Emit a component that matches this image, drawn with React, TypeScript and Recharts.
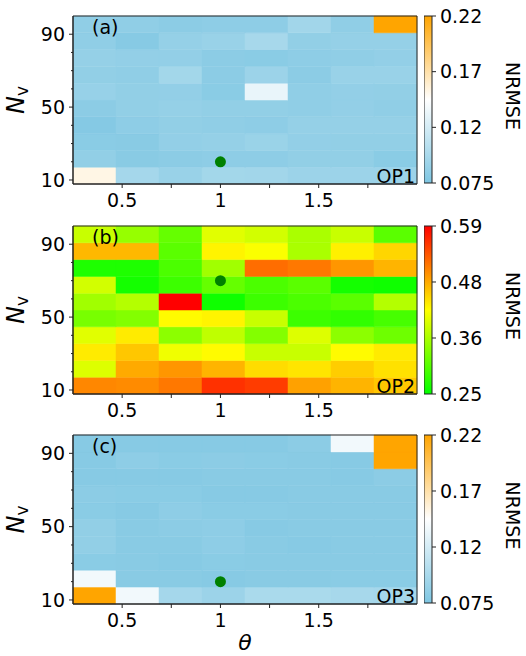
import React from 'react';
import { ComposedChart, XAxis, YAxis, ReferenceArea, Scatter } from 'recharts';

const FONT = '"DejaVu Sans", sans-serif';
const INK = '#222';

// axes
const THETA_MIN = 0.25;
const THETA_MAX = 2.0;
const NV_MIN = 7.8;
const NV_MAX = 100;
const THETA_TICKS = [0.5, 0.75, 1, 1.25, 1.5, 1.75];
const THETA_LABELS = ['0.5', '', '1', '', '1.5', ''];
const NV_TICKS = [10, 20, 30, 40, 50, 60, 70, 80, 90];
const NV_LABELED = [10, 50, 90];

// NRMSE grids, rows from N_v = 100 (top) down to N_v = 10, columns theta 0.25 -> 2.0
const OP1 = [
  [0.085, 0.085, 0.083, 0.084, 0.084, 0.095, 0.085, 0.22],
  [0.085, 0.08, 0.088, 0.09, 0.098, 0.086, 0.088, 0.088],
  [0.088, 0.087, 0.087, 0.083, 0.082, 0.084, 0.085, 0.087],
  [0.086, 0.085, 0.096, 0.083, 0.092, 0.083, 0.09, 0.09],
  [0.089, 0.086, 0.087, 0.082, 0.135, 0.085, 0.087, 0.086],
  [0.083, 0.086, 0.088, 0.086, 0.086, 0.085, 0.087, 0.085],
  [0.079, 0.084, 0.086, 0.085, 0.084, 0.088, 0.088, 0.088],
  [0.082, 0.081, 0.087, 0.088, 0.091, 0.087, 0.086, 0.086],
  [0.086, 0.081, 0.083, 0.084, 0.084, 0.086, 0.086, 0.082],
  [0.155, 0.097, 0.09, 0.096, 0.095, 0.092, 0.092, 0.092],
];
const OP2 = [
  [0.383, 0.35, 0.317, 0.4, 0.39, 0.363, 0.383, 0.31],
  [0.467, 0.467, 0.31, 0.427, 0.417, 0.363, 0.43, 0.447],
  [0.27, 0.27, 0.3, 0.357, 0.517, 0.51, 0.49, 0.47],
  [0.39, 0.263, 0.29, 0.317, 0.3, 0.31, 0.263, 0.26],
  [0.357, 0.37, 0.59, 0.26, 0.29, 0.3, 0.31, 0.37],
  [0.33, 0.337, 0.423, 0.427, 0.383, 0.29, 0.283, 0.297],
  [0.4, 0.433, 0.343, 0.377, 0.337, 0.397, 0.343, 0.323],
  [0.433, 0.457, 0.41, 0.423, 0.383, 0.383, 0.423, 0.433],
  [0.397, 0.477, 0.49, 0.47, 0.443, 0.437, 0.453, 0.44],
  [0.5, 0.497, 0.51, 0.557, 0.55, 0.483, 0.47, 0.457],
];
const OP3 = [
  [0.08, 0.08, 0.08, 0.08, 0.08, 0.083, 0.14, 0.22],
  [0.08, 0.084, 0.082, 0.083, 0.082, 0.081, 0.08, 0.22],
  [0.08, 0.08, 0.08, 0.081, 0.081, 0.081, 0.08, 0.083],
  [0.083, 0.082, 0.082, 0.08, 0.08, 0.081, 0.081, 0.081],
  [0.082, 0.08, 0.084, 0.082, 0.082, 0.081, 0.081, 0.081],
  [0.086, 0.081, 0.083, 0.084, 0.08, 0.081, 0.081, 0.081],
  [0.086, 0.081, 0.081, 0.084, 0.081, 0.08, 0.081, 0.081],
  [0.082, 0.081, 0.08, 0.082, 0.081, 0.081, 0.081, 0.081],
  [0.14, 0.081, 0.081, 0.08, 0.081, 0.081, 0.082, 0.082],
  [0.22, 0.14, 0.097, 0.092, 0.1, 0.1, 0.098, 0.097],
];

// chosen operating points
const DOT_A = [{ theta: 1, nv: 20 }];
const DOT_B = [{ theta: 1, nv: 70 }];
const DOT_C = [{ theta: 1, nv: 20 }];

const BLUE_RANGE = [0.075, 0.22];
const BLUE_TICKS = [0.075, 0.12333, 0.17167, 0.22];
const BLUE_LABELS = ['0.075', '0.12', '0.17', '0.22'];
const GYR_RANGE = [0.25, 0.59];
const GYR_TICKS = [0.25, 0.36333, 0.47667, 0.59];
const GYR_LABELS = ['0.25', '0.36', '0.48', '0.59'];

type Stop = [number, number[]];
const BLUE_MAP: Stop[] = [
  [0, [126, 198, 226]],
  [0.5, [255, 255, 255]],
  [1, [255, 165, 0]],
];
const GYR_MAP: Stop[] = [
  [0, [0, 255, 0]],
  [0.5, [255, 255, 0]],
  [1, [255, 0, 0]],
];

function colorAt(map: Stop[], t: number) {
  const c = Math.max(0, Math.min(1, t));
  for (let i = 1; i < map.length; i++) {
    const [t0, a] = map[i - 1];
    const [t1, b] = map[i];
    if (c <= t1) {
      const f = (c - t0) / (t1 - t0);
      const rgb = a.map((v, k) => Math.round(v + (b[k] - v) * f));
      return `rgb(${rgb.join(',')})`;
    }
  }
  return `rgb(${map[map.length - 1][1].join(',')})`;
}

const NvTick = (props: any) => {
  const { x, y, payload } = props;
  const major = NV_LABELED.includes(payload.value);
  return (
    <g>
      <line x1={x + 8 - (major ? 4 : 2)} x2={x + 8} y1={y} y2={y} stroke={INK} />
      {major && (
        <text x={x} y={y} dy="0.355em" textAnchor="end" fontSize={19} fontFamily={FONT} fill="#000">
          {payload.value}
        </text>
      )}
    </g>
  );
};

interface PanelProps {
  rows: number[][];
  map: Stop[];
  range: number[];
  dot: { theta: number; nv: number }[];
  top: number;
  height: number;
  xAxisHeight: number;
}

const HeatPanel: React.FC<PanelProps> = ({ rows, map, range, dot, top, height, xAxisHeight }) => {
  const nCols = rows[0].length;
  const dx = (THETA_MAX - THETA_MIN) / nCols;
  const dy = (NV_MAX - NV_MIN) / rows.length;
  const bottomUp = [...rows].reverse();
  return (
    <div style={{ position: 'absolute', left: 0, top }}>
      <ComposedChart width={526} height={height} data={dot} margin={{ top: 16, right: 109, bottom: 0, left: 0 }}>
        <XAxis
          type="number"
          dataKey="theta"
          domain={[THETA_MIN, THETA_MAX]}
          allowDataOverflow
          ticks={THETA_TICKS}
          interval={0}
          tickFormatter={(v: number) => THETA_LABELS[THETA_TICKS.indexOf(v)] ?? ''}
          height={xAxisHeight}
          stroke={INK}
          tickSize={4}
          tickMargin={6}
          tick={{ fill: '#000', fontSize: 19, fontFamily: FONT }}
        />
        <YAxis
          type="number"
          dataKey="nv"
          domain={[NV_MIN, NV_MAX]}
          allowDataOverflow
          ticks={NV_TICKS}
          interval={0}
          width={73}
          stroke={INK}
          tickLine={false}
          tickSize={4}
          tickMargin={4}
          tick={<NvTick />}
        />
        {bottomUp.map((row, j) =>
          row.map((v, i) => {
            const fill = colorAt(map, (v - range[0]) / (range[1] - range[0]));
            return (
              <ReferenceArea
                key={`${i}-${j}`}
                x1={THETA_MIN + i * dx}
                x2={THETA_MIN + (i + 1) * dx}
                y1={NV_MIN + j * dy}
                y2={NV_MIN + (j + 1) * dy}
                fill={fill}
                fillOpacity={1}
                stroke={fill}
                strokeWidth={0.5}
                ifOverflow="visible"
              />
            );
          })
        )}
        <ReferenceArea
          x1={THETA_MIN}
          x2={THETA_MAX}
          y1={NV_MIN}
          y2={NV_MAX}
          fill="none"
          stroke={INK}
          strokeOpacity={1}
          ifOverflow="visible"
        />
        <Scatter
          data={dot}
          dataKey="nv"
          isAnimationActive={false}
          shape={(p: any) => <circle cx={p.cx} cy={p.cy} r={5.5} fill="#008000" />}
        />
      </ComposedChart>
    </div>
  );
};

interface BarProps {
  range: number[];
  ticks: number[];
  labels: string[];
  gradId: string;
  top: number;
  height: number;
  bottom: number;
}

const ColorBar: React.FC<BarProps> = ({ range, ticks, labels, gradId, top, height, bottom }) => (
  <div style={{ position: 'absolute', left: 424, top }}>
    <ComposedChart
      width={102}
      height={height}
      data={[{ x: 0, v: range[0] }, { x: 1, v: range[1] }]}
      margin={{ top: 16, right: 0, bottom, left: 0 }}
    >
      <XAxis type="number" dataKey="x" domain={[0, 1]} hide />
      <YAxis
        orientation="right"
        type="number"
        dataKey="v"
        domain={range}
        allowDataOverflow
        ticks={ticks}
        interval={0}
        width={94}
        axisLine={false}
        stroke={INK}
        tickSize={4}
        tickMargin={4}
        tickFormatter={(v: number) => labels[ticks.indexOf(v)] ?? ''}
        tick={{ fill: '#000', fontSize: 19, fontFamily: FONT }}
      />
      <ReferenceArea
        x1={0}
        x2={1}
        y1={range[0]}
        y2={range[1]}
        fill={`url(#${gradId})`}
        fillOpacity={1}
        stroke={INK}
        strokeOpacity={1}
        ifOverflow="visible"
      />
    </ComposedChart>
  </div>
);

const gradient = (id: string, map: Stop[]) => (
  <linearGradient id={id} x1="0" y1="1" x2="0" y2="0">
    {map.map(([t, rgb]) => (
      <stop key={t} offset={t} stopColor={`rgb(${rgb.join(',')})`} />
    ))}
  </linearGradient>
);

const PANELS = [
  { tag: '(a)', op: 'OP1', plotTop: 16, plotBottom: 184 },
  { tag: '(b)', op: 'OP2', plotTop: 226, plotBottom: 394 },
  { tag: '(c)', op: 'OP3', plotTop: 435, plotBottom: 604 },
];

export default function App() {
  return (
    <div style={{ position: 'absolute', left: 0, top: 0, width: 526, height: 656, background: '#fff', fontFamily: FONT }}>
      <svg width={0} height={0} style={{ position: 'absolute' }}>
        <defs>
          {gradient('cb-blue', BLUE_MAP)}
          {gradient('cb-gyr', GYR_MAP)}
        </defs>
      </svg>

      <HeatPanel rows={OP1} map={BLUE_MAP} range={BLUE_RANGE} dot={DOT_A} top={0} height={210} xAxisHeight={26} />
      <HeatPanel rows={OP2} map={GYR_MAP} range={GYR_RANGE} dot={DOT_B} top={210} height={210} xAxisHeight={26} />
      <HeatPanel rows={OP3} map={BLUE_MAP} range={BLUE_RANGE} dot={DOT_C} top={419} height={237} xAxisHeight={52} />

      <ColorBar range={BLUE_RANGE} ticks={BLUE_TICKS} labels={BLUE_LABELS} gradId="cb-blue" top={0} height={210} bottom={27} />
      <ColorBar range={GYR_RANGE} ticks={GYR_TICKS} labels={GYR_LABELS} gradId="cb-gyr" top={210} height={210} bottom={26} />
      <ColorBar range={BLUE_RANGE} ticks={BLUE_TICKS} labels={BLUE_LABELS} gradId="cb-blue" top={419} height={237} bottom={53} />

      <svg width={526} height={656} style={{ position: 'absolute', left: 0, top: 0, pointerEvents: 'none' }}>
        {PANELS.map((p) => {
          const mid = (p.plotTop + p.plotBottom) / 2;
          return (
            <g key={p.tag} fontFamily={FONT} fill="#000">
              <text x={92} y={p.plotTop + 18} fontSize={19}>
                {p.tag}
              </text>
              <text x={415} y={p.plotBottom - 1.5} fontSize={19} textAnchor="end">
                {p.op}
              </text>
              <text transform={`translate(24, ${mid}) rotate(-90)`} textAnchor="middle">
                <tspan fontSize={24} fontStyle="italic">N</tspan>
                <tspan fontSize={17} dy={4}>v</tspan>
              </text>
              <text transform={`translate(506, ${mid - 4}) rotate(90)`} textAnchor="middle" fontSize={19}>
                NRMSE
              </text>
            </g>
          );
        })}
        <text x={245} y={650} textAnchor="middle" fontSize={22} fontStyle="italic" fontFamily={FONT}>
          θ
        </text>
      </svg>
    </div>
  );
}
